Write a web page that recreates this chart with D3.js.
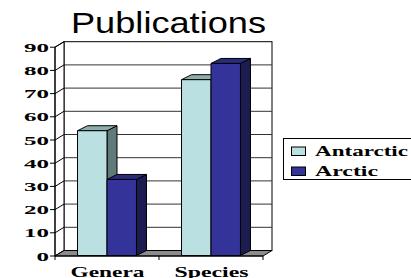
<!DOCTYPE html>
<html><head><meta charset="utf-8">
<script src="https://cdn.jsdelivr.net/npm/d3@7"></script>
<style>html,body{margin:0;padding:0;background:#fff;overflow:hidden}</style>
</head><body>
<svg id="c" width="411" height="278"></svg>
<script>
const title = "Publications";
const categories = ["Genera", "Species"];
const series = ["Antarctic", "Arctic"];
const antarctic = [54, 76];
const arctic = [33, 83];
const yTicks = [0, 10, 20, 30, 40, 50, 60, 70, 80, 90];

const colors = {
  Antarctic: {front: "#bae0e2", top: "#8eaeae", side: "#607a7a"},
  Arctic: {front: "#333399", top: "#2a2a7e", side: "#1c1c50"}
};
const values = {Antarctic: antarctic, Arctic: arctic};

const svg = d3.select("#c");
const x0 = 55, x1 = 263;
const wdx = 9, wdy = -5.5;   // wall depth offset
const bdx = 10, bdy = -5;    // bar depth offset

const y = d3.scaleLinear().domain([0, 90]).range([256, 47.2]);
const x = d3.scaleBand().domain(categories).range([x0, x1]).paddingInner(0.433).paddingOuter(0.2165);
const xs = d3.scaleBand().domain(series).range([0, x.bandwidth()]);

const g = svg.append("g");
// back wall
g.append("rect").attr("x", x0 + wdx).attr("y", y(90) + wdy).attr("width", x1 - x0).attr("height", y(0) - y(90))
  .attr("fill", "#fff").attr("stroke", "#000").attr("stroke-width", 1);
// gridlines on back wall
g.selectAll(".grid").data(yTicks.slice(1, -1)).join("line")
  .attr("x1", x0 + wdx).attr("x2", x1 + wdx)
  .attr("y1", d => y(d) + wdy).attr("y2", d => y(d) + wdy)
  .attr("stroke", "#333").attr("stroke-width", 1);
// left wall
g.append("path").attr("d", `M${x0},${y(0)}L${x0},${y(90)}L${x0 + wdx},${y(90) + wdy}L${x0 + wdx},${y(0) + wdy}Z`)
  .attr("fill", "#fff").attr("stroke", "#000");
g.selectAll(".lw").data(yTicks).join("line")
  .attr("x1", x0).attr("y1", d => y(d)).attr("x2", x0 + wdx).attr("y2", d => y(d) + wdy)
  .attr("stroke", "#000");
// floor
g.append("path").attr("d", `M${x0},${y(0)}L${x1},${y(0)}L${x1 + wdx},${y(0) + wdy}L${x0 + wdx},${y(0) + wdy}Z`)
  .attr("fill", "#8c8c8c").attr("stroke", "#000");
// y ticks
g.selectAll(".yt").data(yTicks).join("line")
  .attr("x1", x0 - 5).attr("x2", x0).attr("y1", d => y(d)).attr("y2", d => y(d)).attr("stroke", "#000");
g.append("line").attr("x1", x0).attr("x2", x0).attr("y1", y(0)).attr("y2", y(90)).attr("stroke", "#000");
// category ticks
g.selectAll(".xt").data([x0, x0 + x.step(), x1]).join("line")
  .attr("x1", d => d).attr("x2", d => d).attr("y1", y(0)).attr("y2", y(0) + 4).attr("stroke", "#000");
g.append("line").attr("x1", x0).attr("x2", x1).attr("y1", y(0)).attr("y2", y(0)).attr("stroke", "#000");

// y labels
g.selectAll(".yl").data(yTicks).join("text")
  .attr("x", 49).attr("y", d => y(d) + 4.5)
  .attr("text-anchor", "end")
  .attr("font-family", "Liberation Serif, Times New Roman, serif").attr("font-weight", "bold").attr("font-size", 13)
  .attr("textLength", d => String(d).length * 12.5).attr("lengthAdjust", "spacingAndGlyphs")
  .text(d => d);

// bars
categories.forEach((c, i) => {
  series.forEach(s => {
    const v = values[s][i];
    const bx = x(c) + xs(s), bw = xs.bandwidth();
    const yb = y(0) - 0.5, yt = y(v);
    const col = colors[s];
    const bg = g.append("g").attr("stroke", "#000").attr("stroke-width", 1).attr("stroke-linejoin", "round");
    bg.append("path").attr("d", `M${bx + bw},${yb}L${bx + bw + bdx},${yb + bdy}L${bx + bw + bdx},${yt + bdy}L${bx + bw},${yt}Z`).attr("fill", col.side);
    bg.append("path").attr("d", `M${bx},${yt}L${bx + bdx},${yt + bdy}L${bx + bw + bdx},${yt + bdy}L${bx + bw},${yt}Z`).attr("fill", col.top);
    bg.append("rect").attr("x", bx).attr("y", yt).attr("width", bw).attr("height", yb - yt).attr("fill", col.front);
  });
});

// category labels
g.selectAll(".xl").data(categories).join("text")
  .attr("x", d => x(d) + x.bandwidth() / 2 + 0.5).attr("y", 276.5)
  .attr("text-anchor", "middle")
  .attr("font-family", "Liberation Serif, Times New Roman, serif").attr("font-weight", "bold").attr("font-size", 14)
  .attr("textLength", 74).attr("lengthAdjust", "spacingAndGlyphs")
  .text(d => d);

// title
svg.append("text").attr("x", 71).attr("y", 33.3)
  .attr("font-family", "Liberation Sans, Arial, sans-serif").attr("font-size", 30)
  .attr("textLength", 195).attr("lengthAdjust", "spacingAndGlyphs")
  .text(title);

// legend
const lg = svg.append("g");
lg.append("rect").attr("x", 283.5).attr("y", 138.5).attr("width", 140).attr("height", 41)
  .attr("fill", "#fff").attr("stroke", "#000");
const legW = {Antarctic: 93, Arctic: 63};
series.forEach((s, i) => {
  const ly = 147 + i * 20;
  lg.append("rect").attr("x", 291.5).attr("y", ly).attr("width", 14).attr("height", 8.5)
    .attr("fill", colors[s].front).attr("stroke", "#000");
  lg.append("text").attr("x", 315).attr("y", ly + 9)
    .attr("font-family", "Liberation Serif, Times New Roman, serif").attr("font-weight", "bold").attr("font-size", 15)
    .attr("textLength", legW[s]).attr("lengthAdjust", "spacingAndGlyphs")
    .text(s);
});
</script>
</body></html>
